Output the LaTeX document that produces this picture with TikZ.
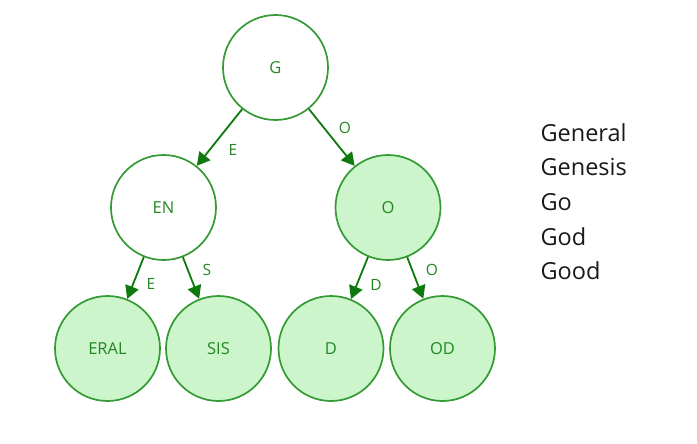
\documentclass[tikz,border=0pt]{standalone}
\usepackage{fontspec}
\setmainfont{Open Sans}
\usetikzlibrary{arrows.meta}
\definecolor{ringc}{HTML}{349A34}
\definecolor{fillc}{HTML}{CCF5CC}
\definecolor{textc}{HTML}{228622}
\definecolor{arrc}{HTML}{0E7A0E}
\tikzset{
  trienode/.style={circle, draw=ringc, line width=1.7pt, minimum size=105pt, inner sep=0pt,
    text=textc, font=\fontsize{16.5}{18}\selectfont},
  leafnode/.style={trienode, fill=fillc},
  edgearr/.style={draw=arrc, line width=1.8pt, -{Triangle[length=13pt,width=14pt]}},
  elabel/.style={text=textc, font=\fontsize{15.5}{17}\selectfont},
  word/.style={anchor=west, text=black!90, font=\fontsize{23.5}{25}\selectfont}
}
\begin{document}
\begin{tikzpicture}[x=1pt,y=-1pt]
\useasboundingbox (0,0) rectangle (697,444);
\node[trienode] (G) at (275.5,67.5) {G};
\node[trienode] (EN) at (163.5,207.5) {EN};
\node[leafnode] (O) at (388,207.5) {O};
\node[leafnode] (ERAL) at (107.5,348.5) {ERAL};
\node[leafnode] (SIS) at (218.5,348.5) {SIS};
\node[leafnode] (D) at (331,348.5) {D};
\node[leafnode] (OD) at (442.5,348.5) {OD};
\path[edgearr] (G) -- (EN);
\path[edgearr] (G) -- (O);
\path[edgearr] (EN) -- (ERAL);
\path[edgearr] (EN) -- (SIS);
\path[edgearr] (O) -- (D);
\path[edgearr] (O) -- (OD);
\node[elabel] (lE1) at (233,150) {E};
\node[elabel] (lO1) at (345,128) {O};
\node[elabel] (lE2) at (151,284) {E};
\node[elabel] (lS) at (207,270) {S};
\node[elabel] (lD) at (376,285) {D};
\node[elabel] (lO2) at (432,270) {O};
\node[word] (w1) at (537,133) {General};
\node[word] (w2) at (537,167) {Genesis};
\node[word] (w3) at (537,202) {Go};
\node[word] (w4) at (537,237) {God};
\node[word] (w5) at (537,271) {Good};
\end{tikzpicture}
\end{document}
